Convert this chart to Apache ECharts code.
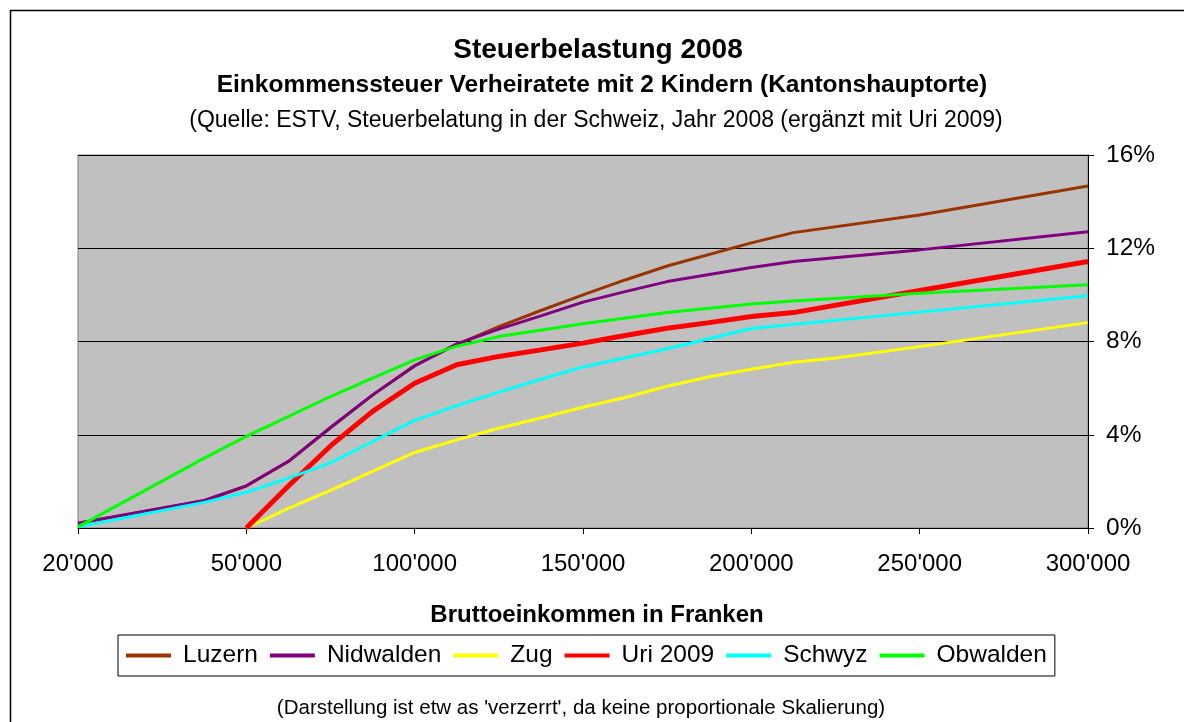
<!DOCTYPE html>
<html>
<head>
<meta charset="utf-8">
<title>Steuerbelastung 2008</title>
<script src="https://cdn.jsdelivr.net/npm/echarts@6/dist/echarts.min.js"></script>
<style>
  html, body { margin: 0; padding: 0; background: #fff; }
  #chart { width: 1184px; height: 722px; }
</style>
</head>
<body>
<div id="chart"></div>
<script>
// Bruttoeinkommen (Kategorien, nicht proportional)
const incomes = [20000, 27500, 35000, 42500, 50000, 62500, 75000, 87500, 100000,
  112500, 125000, 137500, 150000, 162500, 175000, 187500, 200000,
  212500, 225000, 237500, 250000, 262500, 275000, 287500, 300000];
const shownIncomes = [20000, 50000, 100000, 150000, 200000, 250000, 300000];

// Steuerbelastung in %
const luzern = [0.2, null, null, 1.17, 1.8, 2.85, 4.3, 5.7, 6.97, 7.87, 8.64, 9.33, 10.0, 10.64, 11.24, null, 12.23, 12.67, null, null, 13.43, null, null, null, 14.67];
const nidwalden = [0.21, null, null, 1.18, 1.81, 2.86, 4.31, 5.71, 6.95, 7.9, 8.53, 9.1, 9.69, 10.14, 10.57, null, 11.17, 11.43, null, null, 11.93, null, null, null, 12.71];
const zug = [null, null, null, null, 0, 0.84, 1.61, 2.43, 3.24, 3.78, 4.28, 4.72, 5.18, 5.6, 6.08, 6.49, 6.81, 7.11, 7.29, null, 7.78, null, null, null, 8.81];
const uri2009 = [null, null, null, null, 0, 1.8, 3.52, 5.0, 6.21, 7.0, 7.36, 7.64, 7.93, 8.26, 8.57, 8.81, 9.07, 9.24, null, null, 10.19, null, null, null, 11.43];
const schwyz = [0.05, null, null, 1.1, 1.53, 2.14, 2.79, 3.71, 4.62, 5.25, 5.83, 6.38, 6.91, null, 7.69, null, 8.56, null, null, null, 9.26, null, null, null, 9.96];
const obwalden = [0.05, null, null, 3.0, 3.93, null, 5.64, 6.43, 7.21, 7.8, 8.21, null, 8.76, null, 9.24, null, 9.61, 9.74, null, null, 10.07, null, null, null, 10.43];

const yTicks = [0, 4, 8, 12, 16];

const font = "'Liberation Sans', Arial, sans-serif";

function fmt(n) {
  return String(n).replace(/\B(?=(\d{3})+(?!\d))/g, "'");
}
function isShown(i) {
  return shownIncomes.indexOf(incomes[i]) >= 0;
}

function line(name, data, color, width) {
  return {
    name: name,
    type: 'line',
    data: data,
    connectNulls: true,
    symbol: 'none',
    smooth: false,
    lineStyle: { color: color, width: width },
    itemStyle: { color: color },
    animation: false
  };
}

const chart = echarts.init(document.getElementById('chart'));

chart.setOption({
  backgroundColor: '#fff',
  textStyle: { fontFamily: font },
  title: [
    {
      text: 'Steuerbelastung 2008',
      left: 593, top: 31, textAlign: 'center',
      textStyle: { fontFamily: font, fontSize: 28, fontWeight: 'bold', color: '#000' }
    },
    {
      text: 'Einkommenssteuer Verheiratete mit 2 Kindern (Kantonshauptorte)',
      left: 597, top: 68, textAlign: 'center',
      textStyle: { fontFamily: font, fontSize: 24.5, fontWeight: 'bold', color: '#000' }
    },
    {
      text: '(Quelle: ESTV, Steuerbelatung in der Schweiz, Jahr 2008 (ergänzt mit Uri 2009)',
      left: 591, top: 104, textAlign: 'center',
      textStyle: { fontFamily: font, fontSize: 23, fontWeight: 'normal', color: '#000' }
    },
    {
      text: "(Darstellung ist etw as 'verzerrt', da keine proportionale Skalierung)",
      left: 576, top: 693, textAlign: 'center',
      textStyle: { fontFamily: font, fontSize: 20.5, fontWeight: 'normal', color: '#000' }
    }
  ],
  graphic: [
    {
      type: 'rect',
      shape: { x: 10.5, y: 10.5, width: 1300, height: 900 },
      style: { fill: null, stroke: '#000', lineWidth: 1.5 },
      silent: true
    }
  ],
  legend: {
    left: 118, top: 635,
    padding: [8, 8, 8, 8],
    borderColor: '#000',
    borderWidth: 1,
    icon: 'rect',
    itemWidth: 45,
    itemHeight: 4,
    itemGap: 12,
    textStyle: { fontFamily: font, fontSize: 24.5, color: '#000', padding: [0, 0, 0, 7] },
    data: ['Luzern', 'Nidwalden', 'Zug', 'Uri 2009', 'Schwyz', 'Obwalden']
  },
  grid: {
    left: 78, right: 96, top: 155, bottom: 194,
    show: true,
    backgroundColor: '#C0C0C0',
    borderColor: '#808080',
    borderWidth: 1
  },
  xAxis: {
    type: 'category',
    boundaryGap: false,
    data: incomes.map(fmt),
    name: 'Bruttoeinkommen in Franken',
    nameLocation: 'middle',
    nameGap: 75,
    nameTextStyle: { fontFamily: font, fontSize: 24, fontWeight: 'bold', color: '#000', padding: [0, 0, 0, 28] },
    axisLine: { lineStyle: { color: '#000', width: 1 } },
    axisTick: { show: true, length: 6, interval: (i) => isShown(i), lineStyle: { color: '#000' } },
    axisLabel: {
      interval: (i) => isShown(i),
      margin: 24,
      fontFamily: font, fontSize: 24, color: '#000'
    },
    splitLine: { show: false }
  },
  yAxis: {
    type: 'value',
    position: 'right',
    min: yTicks[0],
    max: yTicks[yTicks.length - 1],
    interval: 4,
    axisLine: { show: true, lineStyle: { color: '#000', width: 1 } },
    axisTick: { show: true, length: 6, lineStyle: { color: '#000' } },
    axisLabel: {
      formatter: '{value}%',
      margin: 18,
      fontFamily: font, fontSize: 24.5, color: '#000'
    },
    splitLine: { show: true, lineStyle: { color: '#000', width: 1 } }
  },
  series: [
    line('Luzern', luzern, '#993300', 3),
    line('Nidwalden', nidwalden, '#800080', 3),
    line('Zug', zug, '#FFFF00', 3),
    line('Uri 2009', uri2009, '#FF0000', 5),
    line('Schwyz', schwyz, '#00FFFF', 3),
    line('Obwalden', obwalden, '#00FF00', 3)
  ]
});
</script>
</body>
</html>
